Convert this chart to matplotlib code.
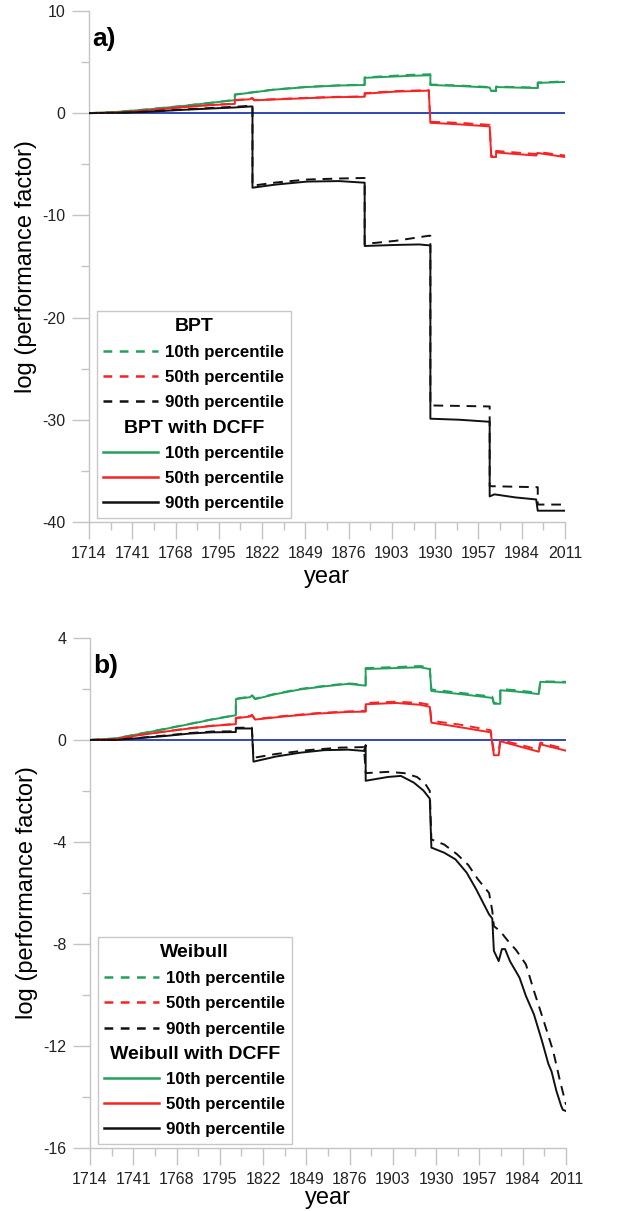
import matplotlib.pyplot as plt
from matplotlib.lines import Line2D
from matplotlib.ticker import MultipleLocator, FixedLocator

plt.rcParams['font.family'] = ['Liberation Sans', 'DejaVu Sans']
plt.rcParams['axes.unicode_minus'] = False

GREEN = '#23a05c'
RED = '#f52323'
BLACK = '#111111'
BLUE = '#3049b5'

years = list(range(1714, 2012, 27))

# ---- panel a: BPT ----
a_g_sol_x = [1714, 1730, 1750, 1770, 1790, 1805, 1805, 1815, 1830, 1850, 1870, 1886, 1886, 1900, 1915, 1927,
             1927, 1945, 1964, 1965, 1968, 1968, 1980, 1994, 1994, 2011]
a_g_sol_y = [0, 0.1, 0.35, 0.65, 1.0, 1.27, 1.8, 2.0, 2.3, 2.55, 2.7, 2.75, 3.45, 3.55, 3.65, 3.7,
             2.75, 2.65, 2.5, 2.15, 2.15, 2.55, 2.5, 2.45, 2.95, 3.05]
a_g_das_x = [1714, 1730, 1750, 1770, 1790, 1805, 1805, 1815, 1830, 1850, 1870, 1886, 1886, 1900, 1915, 1927,
             1927, 1945, 1964, 1965, 1968, 1968, 1980, 1994, 1994, 2011]
a_g_das_y = [0, 0.1, 0.37, 0.67, 1.02, 1.3, 1.83, 2.02, 2.32, 2.57, 2.72, 2.78, 3.5, 3.62, 3.75, 3.8,
             2.8, 2.7, 2.55, 2.2, 2.2, 2.6, 2.55, 2.5, 3.0, 3.1]
a_r_sol_x = [1714, 1730, 1750, 1770, 1790, 1805, 1805, 1814, 1816, 1817, 1840, 1865, 1886, 1886, 1905, 1926,
             1927, 1945, 1964, 1965, 1968, 1968, 1980, 1993, 1994, 2011]
a_r_sol_y = [0, 0.05, 0.25, 0.55, 0.78, 0.9, 1.25, 1.35, 1.45, 1.25, 1.4, 1.55, 1.6, 1.9, 2.1, 2.2,
             -0.95, -1.1, -1.3, -4.3, -4.3, -3.85, -4.0, -4.15, -3.9, -4.3]
a_r_das_x = [1714, 1730, 1750, 1770, 1790, 1805, 1805, 1814, 1816, 1817, 1840, 1865, 1886, 1886, 1905, 1926,
             1927, 1945, 1964, 1965, 1968, 1968, 1980, 1993, 1994, 2011]
a_r_das_y = [0, 0.05, 0.27, 0.57, 0.8, 0.93, 1.28, 1.38, 1.48, 1.28, 1.43, 1.58, 1.63, 1.95, 2.15, 2.25,
             -0.85, -0.95, -1.15, -4.2, -4.2, -3.7, -3.85, -4.0, -3.8, -4.15]
a_k_sol_x = [1714, 1730, 1750, 1770, 1790, 1805, 1815, 1816, 1816, 1830, 1850, 1870, 1885, 1886, 1886, 1905,
             1920, 1927, 1927, 1945, 1964, 1964, 1967, 1980, 1993, 1994, 2011]
a_k_sol_y = [0, 0.02, 0.12, 0.3, 0.45, 0.55, 0.65, 0.65, -7.3, -7.0, -6.7, -6.65, -6.8, -6.8, -13.0, -12.9,
             -12.85, -12.95, -29.9, -30.0, -30.2, -37.5, -37.3, -37.6, -37.8, -38.9, -38.9]
a_k_das_x = [1714, 1730, 1750, 1770, 1790, 1805, 1815, 1816, 1816, 1830, 1850, 1870, 1885, 1886, 1886, 1905,
             1926, 1927, 1927, 1964, 1964, 1993, 1994, 1994, 2011]
a_k_das_y = [0, 0.03, 0.15, 0.33, 0.5, 0.62, 0.72, 0.72, -7.1, -6.8, -6.5, -6.4, -6.35, -6.35, -12.8, -12.5,
             -12.0, -12.0, -28.6, -28.7, -36.5, -36.6, -36.6, -38.3, -38.3]

# ---- panel b: Weibull ----
b_g_sol_x = [1714, 1730, 1746, 1760, 1776, 1790, 1805, 1805, 1814, 1815, 1817, 1830, 1845, 1860, 1875, 1886,
             1886, 1905, 1920, 1926, 1927, 1945, 1965, 1966, 1970, 1970, 1980, 1994, 1995, 2011]
b_g_sol_y = [0, 0.06, 0.25, 0.42, 0.62, 0.8, 0.97, 1.6, 1.68, 1.75, 1.6, 1.8, 1.98, 2.1, 2.2, 2.13,
             2.78, 2.82, 2.85, 2.78, 1.92, 1.8, 1.65, 1.42, 1.42, 1.95, 1.9, 1.8, 2.28, 2.25]
b_g_das_x = [1714, 1730, 1746, 1760, 1776, 1790, 1805, 1805, 1814, 1815, 1817, 1830, 1845, 1860, 1875, 1886,
             1886, 1905, 1920, 1926, 1927, 1945, 1965, 1966, 1970, 1970, 1980, 1994, 1995, 2011]
b_g_das_y = [0, 0.06, 0.26, 0.43, 0.63, 0.81, 0.98, 1.62, 1.7, 1.77, 1.62, 1.82, 2.0, 2.12, 2.22, 2.16,
             2.82, 2.86, 2.9, 2.85, 1.98, 1.85, 1.7, 1.45, 1.45, 2.0, 1.95, 1.85, 2.3, 2.28]
b_r_sol_x = [1714, 1730, 1746, 1760, 1776, 1790, 1805, 1805, 1814, 1815, 1817, 1835, 1855, 1875, 1886, 1886,
             1905, 1920, 1926, 1927, 1945, 1964, 1966, 1969, 1970, 1980, 1994, 1995, 2011]
b_r_sol_y = [0, 0.04, 0.2, 0.32, 0.45, 0.55, 0.62, 0.85, 0.92, 0.97, 0.8, 0.92, 1.03, 1.1, 1.11, 1.4,
             1.45, 1.38, 1.3, 0.68, 0.5, 0.3, -0.6, -0.6, -0.05, -0.22, -0.46, -0.17, -0.42]
b_r_das_x = [1714, 1730, 1746, 1760, 1776, 1790, 1805, 1805, 1814, 1815, 1817, 1835, 1855, 1875, 1886, 1886,
             1905, 1920, 1926, 1927, 1945, 1964, 1966, 1969, 1970, 1980, 1994, 1995, 2011]
b_r_das_y = [0, 0.04, 0.21, 0.33, 0.46, 0.56, 0.63, 0.87, 0.94, 0.99, 0.82, 0.94, 1.05, 1.12, 1.14, 1.45,
             1.5, 1.45, 1.38, 0.75, 0.6, 0.38, -0.45, -0.45, 0.0, -0.15, -0.38, -0.1, -0.36]
b_k_sol_x = [1714, 1730, 1746, 1760, 1776, 1790, 1805, 1805, 1815, 1816, 1830, 1845, 1860, 1875, 1885, 1886,
             1886, 1900, 1908, 1916, 1922, 1926, 1927, 1935, 1942, 1949, 1955, 1963, 1965, 1966, 1969, 1971,
             1973, 1976, 1982, 1986, 1991, 1996, 2000, 2002, 2005, 2008, 2009, 2011]
b_k_sol_y = [0, 0.0, 0.08, 0.15, 0.25, 0.3, 0.31, 0.45, 0.45, -0.85, -0.65, -0.5, -0.4, -0.38, -0.43, -0.2,
             -1.6, -1.45, -1.41, -1.67, -1.98, -2.3, -4.22, -4.42, -4.68, -5.2, -5.86, -6.84, -7.0, -8.27, -8.67, -8.2,
             -8.2, -8.67, -9.32, -10.04, -10.76, -11.8, -12.7, -13.0, -13.76, -14.35, -14.5, -14.55]
b_k_das_x = [1714, 1730, 1746, 1760, 1776, 1790, 1805, 1805, 1815, 1816, 1830, 1850, 1870, 1885, 1886, 1900,
             1910, 1918, 1923, 1926, 1927, 1935, 1943, 1950, 1956, 1963, 1965, 1966, 1970, 1974, 1980, 1986,
             1991, 1997, 2003, 2007, 2011]
b_k_das_y = [0, 0.01, 0.09, 0.17, 0.27, 0.33, 0.34, 0.48, 0.48, -0.7, -0.55, -0.4, -0.3, -0.28, -1.3, -1.25,
             -1.3, -1.45, -1.7, -2.0, -3.9, -4.1, -4.48, -4.9, -5.46, -6.0, -6.7, -7.3, -7.5, -7.82, -8.25, -8.8,
             -9.84, -11.0, -12.2, -13.3, -14.3]

fig = plt.figure(figsize=(6.25, 12.11), dpi=100)
ax_a = fig.add_axes([0.1424, 0.5690, 0.7616, 0.4220])
ax_b = fig.add_axes([0.1440, 0.0520, 0.7616, 0.4212])

lw = 1.4
dash = (5, 3.5)


def panel(ax, data, ylim, ystep, letter, name, xpad):
    gs, gd, rs, rd, ks, kd = data
    ax.axhline(0, color=BLUE, lw=1.4, zorder=1)
    h = []
    for (x, y), c in zip([gd, rd, kd], [GREEN, RED, BLACK]):
        ax.plot(x, y, color=c, lw=lw, dashes=dash, zorder=3)
        h.append(Line2D([], [], color=c, lw=1.8, dashes=(3.5, 3)))
    for (x, y), c in zip([gs, rs, ks], [GREEN, RED, BLACK]):
        ax.plot(x, y, color=c, lw=lw, zorder=2)
        h.append(Line2D([], [], color=c, lw=1.8))
    ax.set_xlim(1714, 2011)
    ax.set_ylim(*ylim)
    ax.xaxis.set_major_locator(FixedLocator(years))
    ax.xaxis.set_minor_locator(FixedLocator([y + 13.5 for y in years[:-1]]))
    ax.yaxis.set_major_locator(MultipleLocator(ystep))
    ax.yaxis.set_minor_locator(MultipleLocator(ystep / 2))
    for s in ['top', 'right']:
        ax.spines[s].set_visible(False)
    for s in ['left', 'bottom']:
        ax.spines[s].set_color('#c4c4c4')
        ax.spines[s].set_linewidth(1.0)
    ax.tick_params(which='major', length=12, width=1.0, color='#c4c4c4', labelsize=11.5,
                   labelcolor='#222222', pad=5)
    ax.tick_params(which='minor', length=6, width=1.0, color='#c4c4c4')
    ax.set_xlabel('year', fontsize=17, labelpad=xpad)
    ax.set_ylabel('log (performance factor)', fontsize=17, labelpad=4)
    ax.text(0.006, 0.945, letter, transform=ax.transAxes, fontsize=19, fontweight='bold', va='center')

    blank = Line2D([], [], color='none')
    handles = h[:3] + [blank] + h[3:]
    labels = ['10th percentile', '50th percentile', '90th percentile', ' ',
              '10th percentile', '50th percentile', '90th percentile']
    leg = ax.legend(handles, labels, loc='lower left', bbox_to_anchor=(0.016, 0.008), borderaxespad=0,
                    prop={'size': 12.2, 'weight': 'bold'}, title=name,
                    title_fontproperties={'size': 14, 'weight': 'bold'},
                    handlelength=3.2, handletextpad=0.45, labelspacing=0.6, borderpad=0.4,
                    fancybox=False, framealpha=1, edgecolor='#c8c8c8')
    leg.get_frame().set_linewidth(1.0)
    return leg


leg_a = panel(ax_a, [(a_g_sol_x, a_g_sol_y), (a_g_das_x, a_g_das_y), (a_r_sol_x, a_r_sol_y),
                     (a_r_das_x, a_r_das_y), (a_k_sol_x, a_k_sol_y), (a_k_das_x, a_k_das_y)],
              (-40, 10), 10, 'a)', 'BPT', 4)
leg_b = panel(ax_b, [(b_g_sol_x, b_g_sol_y), (b_g_das_x, b_g_das_y), (b_r_sol_x, b_r_sol_y),
                     (b_r_das_x, b_r_das_y), (b_k_sol_x, b_k_sol_y), (b_k_das_x, b_k_das_y)],
              (-16, 4), 4, 'b)', 'Weibull', 0)

# second header inside each legend, centred like the title
fig.canvas.draw()
inv = fig.transFigure.inverted()
for leg, name in [(leg_a, 'BPT with DCFF'), (leg_b, 'Weibull with DCFF')]:
    t = leg.get_texts()
    b2 = t[2].get_window_extent()
    b4 = t[4].get_window_extent()
    fr = leg.get_frame().get_window_extent()
    cx, cy = inv.transform(((fr.x0 + fr.x1) / 2, (b2.y0 + b2.y1 + b4.y0 + b4.y1) / 4))
    fig.text(cx, cy, name, ha='center', va='center', fontsize=14, fontweight='bold', zorder=10)

fig.savefig('out.png', dpi=100)
